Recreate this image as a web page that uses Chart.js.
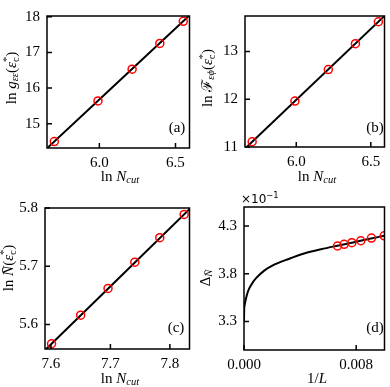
<!DOCTYPE html>
<html>
<head>
<meta charset="utf-8">
<script src="https://cdn.jsdelivr.net/npm/chart.js@4.4.1/dist/chart.umd.min.js"></script>
<style>
body { margin: 0; background: #fff; }
#fig { position: relative; width: 390px; height: 387px; font-family: "Liberation Serif", serif; color: #000; overflow: hidden; }
#fig canvas { position: absolute; }
.lbl { position: absolute; transform: translate(-50%, -50%); white-space: nowrap; font-size: 15px; line-height: 1; }
.rot { transform: translate(-50%, -50%) rotate(-90deg); }
.lbl sub { font-size: 70%; line-height: 0; vertical-align: -0.25em; }
.lbl sup { font-size: 70%; line-height: 0; }
.st { display: inline-block; vertical-align: -0.3em; font-size: 70%; line-height: 0.85; }
.st span { display: block; }
.off { position: absolute; font-family: "DejaVu Sans", sans-serif; font-size: 12px; line-height: 1; }
</style>
</head>
<body>
<div id="fig">
  <canvas id="chartA" width="195" height="190" style="left:0;top:0"></canvas>
  <canvas id="chartB" width="195" height="190" style="left:195px;top:0"></canvas>
  <canvas id="chartC" width="195" height="197" style="left:0;top:190px"></canvas>
  <canvas id="chartD" width="195" height="197" style="left:195px;top:190px"></canvas>

  <div class="lbl rot" style="left:12px;top:78px">ln <i>g</i><sub><i>εε</i></sub>(<i>ε</i><span class="st"><span>*</span><span>c</span></span>)</div>
  <div class="lbl" style="left:120px;top:176px">ln <i>N</i><sub><i>cut</i></sub></div>
  <div class="lbl" style="left:177px;top:127px">(a)</div>

  <div class="lbl rot" style="left:208px;top:78px">ln ℱ<sub><i>εϕ</i></sub>(<i>ε</i><span class="st"><span>*</span><span>c</span></span>)</div>
  <div class="lbl" style="left:317px;top:176px">ln <i>N</i><sub><i>cut</i></sub></div>
  <div class="lbl" style="left:375px;top:127px">(b)</div>

  <div class="lbl rot" style="left:9px;top:268px">ln <i>N̄</i>(<i>ε</i><span class="st"><span>*</span><span>c</span></span>)</div>
  <div class="lbl" style="left:120px;top:378px">ln <i>N</i><sub><i>cut</i></sub></div>
  <div class="lbl" style="left:176px;top:327px">(c)</div>

  <div class="lbl rot" style="left:205px;top:278px">Δ<sub><i>N̄</i></sub></div>
  <div class="lbl" style="left:317px;top:378px">1/<i>L</i></div>
  <div class="lbl" style="left:375px;top:327px">(d)</div>
  <div class="off" style="left:241px;top:191px">×10<sup style="font-size:70%">−1</sup></div>
</div>
<script>
// (a), (b): ln N_cut, N_cut = 300 ... 700
const lnNcutAB = [5.704, 5.991, 6.215, 6.397, 6.551];
const lnGee = [14.50, 15.64, 16.53, 17.25, 17.87];
const lnFephi = [11.11, 11.96, 12.62, 13.16, 13.62];
// straight fit lines, read at the two ends
const fitXAB = [5.60, 6.60];
const fitGee = [14.09, 18.07];
const fitFephi = [10.80, 13.765];

// (c): N_cut = 2000 ... 2500
const lnNcutC = [7.601, 7.650, 7.696, 7.741, 7.783, 7.824];
const lnNbar = [5.567, 5.616, 5.662, 5.707, 5.749, 5.789];
const fitXC = [7.58, 7.84];
const fitNbar = [5.546, 5.805];

// (d): gap vs 1/L, values in units of 1e-1
const invL = [0.00667, 0.00714, 0.00769, 0.00833, 0.00909, 0.01];
const deltaN = [4.091, 4.109, 4.126, 4.146, 4.174, 4.198];
const curveX = [0, 0.00001, 0.00005, 0.00012, 0.00028, 0.00051, 0.00086, 0.00144, 0.00202, 0.00318, 0.00434, 0.0055, 0.00666, 0.00777, 0.00888, 0.01];
const curveY = [3.30, 3.41, 3.475, 3.527, 3.614, 3.683, 3.753, 3.833, 3.885, 3.955, 4.015, 4.057, 4.094, 4.128, 4.164, 4.198];

// tick labels
const xTicksAB = [6.0, 6.5];
const yTicksA = [15, 16, 17, 18];
const yTicksB = [11, 12, 13];
const xTicksC = [7.6, 7.7, 7.8];
const yTicksC = [5.6, 5.7, 5.8];
const xTicksD = [0, 0.008];
const yTicksD = [3.3, 3.8, 4.3];

function pts(xs, ys) {
  return xs.map((x, i) => ({x: x, y: ys[i]}));
}

// box round the plot plus inward ticks on bottom and left
const frame = {
  id: 'frame',
  afterDraw(chart) {
    const ctx = chart.ctx;
    const a = chart.chartArea;
    const x = chart.scales.x, y = chart.scales.y;
    ctx.save();
    ctx.strokeStyle = '#000';
    ctx.lineWidth = 1.5;
    ctx.strokeRect(a.left, a.top, a.right - a.left, a.bottom - a.top);
    ctx.beginPath();
    x.ticks.forEach(t => {
      const px = x.getPixelForValue(t.value);
      ctx.moveTo(px, a.bottom);
      ctx.lineTo(px, a.bottom - 5);
    });
    y.ticks.forEach(t => {
      const py = y.getPixelForValue(t.value);
      ctx.moveTo(a.left, py);
      ctx.lineTo(a.left + 5, py);
    });
    ctx.stroke();
    ctx.restore();
  }
};

function axis(dir, min, max, ticks, digits, size) {
  return {
    type: 'linear',
    min: min,
    max: max,
    grid: {display: false, drawTicks: false},
    border: {display: false},
    ticks: {
      autoSkip: false,
      maxRotation: 0,
      padding: dir === 'x' ? 6 : 7,
      color: '#000',
      font: {family: 'Liberation Serif', size: 15},
      callback: v => v.toFixed(digits)
    },
    afterBuildTicks: s => { s.ticks = ticks.map(v => ({value: v})); },
    afterFit: s => {
      if (dir === 'x') s.height = size;
      else s.width = size;
    }
  };
}

function makePanel(id, p) {
  return new Chart(document.getElementById(id), {
    type: 'scatter',
    data: {
      datasets: [{
        data: pts(p.x, p.y),
        showLine: false,
        pointStyle: 'circle',
        pointRadius: 4,
        pointBorderWidth: 1.5,
        pointBorderColor: '#ff0000',
        pointBackgroundColor: 'rgba(0,0,0,0)'
      }, {
        data: pts(p.fx, p.fy),
        showLine: true,
        borderColor: '#000',
        borderWidth: 2,
        pointRadius: 0,
        cubicInterpolationMode: 'monotone'
      }]
    },
    options: {
      responsive: false,
      animation: false,
      events: [],
      layout: {padding: p.pad},
      plugins: {legend: {display: false}, tooltip: {enabled: false}},
      scales: {
        x: axis('x', p.xr[0], p.xr[1], p.xt, p.xd, p.xh),
        y: axis('y', p.yr[0], p.yr[1], p.yt, p.yd, p.yw)
      }
    },
    plugins: [frame]
  });
}

makePanel('chartA', {
  x: lnNcutAB, y: lnGee, fx: fitXAB, fy: fitGee,
  xr: [5.656, 6.592], yr: [14.32, 18.02], xt: xTicksAB, yt: yTicksA, xd: 1, yd: 0,
  pad: {top: 5, right: 4, left: 0, bottom: 0}, xh: 42, yw: 47
});

makePanel('chartB', {
  x: lnNcutAB, y: lnFephi, fx: fitXAB, fy: fitFephi,
  xr: [5.656, 6.592], yr: [11.0, 13.74], xt: xTicksAB, yt: yTicksB, xd: 1, yd: 0,
  pad: {top: 5, right: 2, left: 0, bottom: 0}, xh: 43, yw: 50
});

makePanel('chartC', {
  x: lnNcutC, y: lnNbar, fx: fitXC, fy: fitNbar,
  xr: [7.59, 7.833], yr: [5.558, 5.80], xt: xTicksC, yt: yTicksC, xd: 1, yd: 1,
  pad: {top: 18, right: 4, left: 0, bottom: 0}, xh: 38, yw: 45
});

makePanel('chartD', {
  x: invL, y: deltaN, fx: curveX, fy: curveY,
  xr: [0, 0.01002], yr: [3.0, 4.5], xt: xTicksD, yt: yTicksD, xd: 3, yd: 1,
  pad: {top: 17, right: 2, left: 0, bottom: 0}, xh: 37, yw: 49
});
</script>
</body>
</html>
